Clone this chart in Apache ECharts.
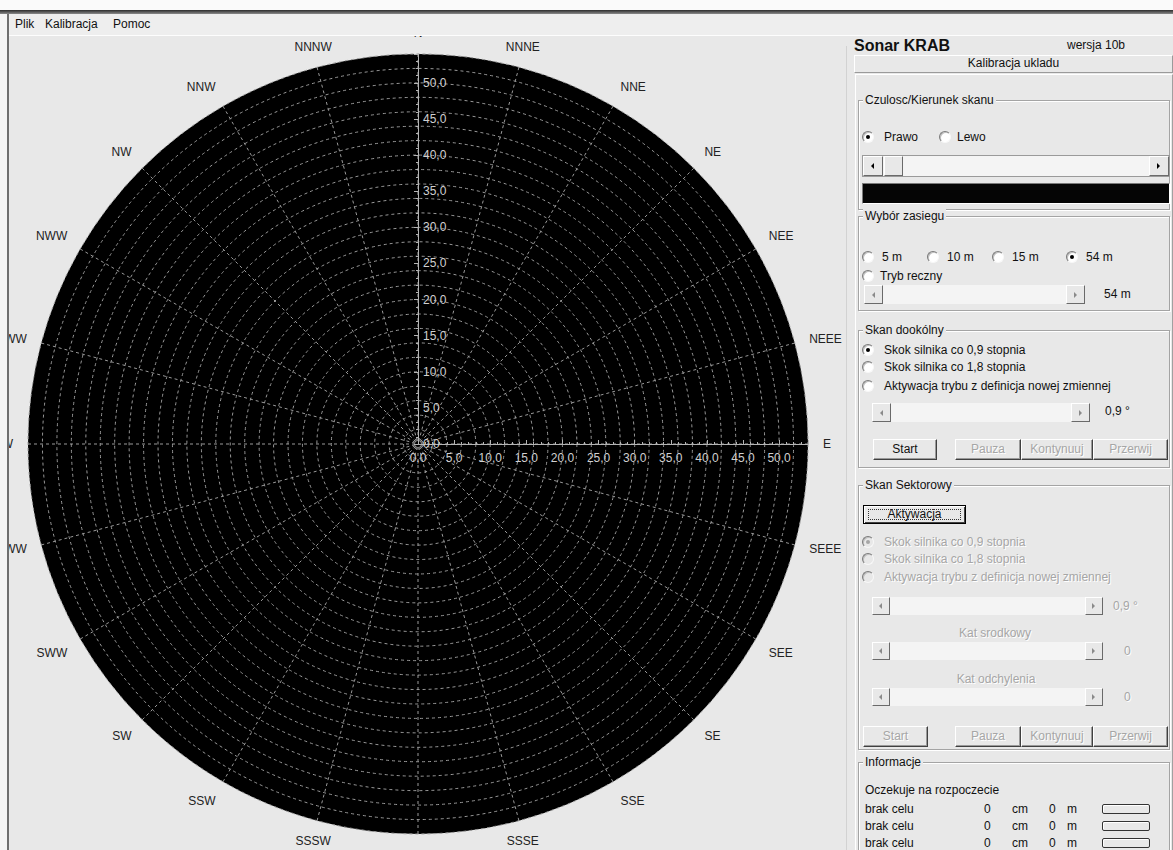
<!DOCTYPE html>
<html>
<head>
<meta charset="utf-8">
<script src="https://cdn.jsdelivr.net/npm/echarts@6/dist/echarts.min.js"></script>
<style>
html,body{margin:0;padding:0;width:1173px;height:850px;overflow:hidden;background:#e8e8e8;
  font-family:"Liberation Sans",Arial,sans-serif;font-size:12px;color:#111;}
#chart{position:absolute;left:0;top:0;width:848px;height:850px;z-index:1;}
#ui{position:absolute;left:0;top:0;width:1173px;height:850px;z-index:2;pointer-events:none;}
#ui div{position:absolute;box-sizing:border-box;white-space:nowrap;}
</style>
</head>
<body>
<div id="chart"></div>
<div id="ui"></div>
<script>
// ---------- chart data ----------
const directions = ['N','NNNE','NNE','NE','NEE','NEEE','E','SEEE','SEE','SE','SSE','SSSE',
                    'S','SSSW','SSW','SW','SWW','SWWW','W','NWWW','NWW','NW','NNW','NNNW'];
const bearingStep = 15;       // degrees between compass spokes
const rangeMax = 54;          // selected range: 54 m
const ringStep = 2;           // dashed range rings every 2 m
const labelStep = 5;          // labelled ticks every 5 m
const radialTickLabels = ['0,0','5,0','10,0','15,0','20,0','25,0','30,0','35,0','40,0','45,0','50,0'];

// ---------- panel texts ----------
const menuItems = ['Plik','Kalibracja','Pomoc'];
const rangeOptions = ['5 m','10 m','15 m','54 m'];
const stepOptions = ['Skok silnika co 0,9 stopnia','Skok silnika co 1,8 stopnia','Aktywacja trybu z definicja nowej zmiennej'];
const controlButtons = ['Start','Pauza','Kontynuuj','Przerwij'];
const targetStatus = ['brak celu','brak celu','brak celu'];
const targetCm = [0,0,0];
const targetM = [0,0,0];

// ---------- chart ----------
const chart = echarts.init(document.getElementById('chart'), null, {renderer:'svg'});
const center = [418, 444];
const radius = 390;
const gridLine = {color:'#9a9a9a', width:1, type:[3,3]};
const axisColor = '#b4b4b4';
const labelFmt = v => (v % labelStep === 0 && radialTickLabels[v / labelStep]) || '';
const bearingFmt = v => directions[Math.round(v / bearingStep) % directions.length];
const labelFont = {fontFamily:'Liberation Sans', fontSize:12, color:'#d0d0d0'};
const fullCircle = {type:'value', min:0, max:360, interval:bearingStep, startAngle:90, clockwise:true};

chart.setOption({
  animation:false,
  backgroundColor:'transparent',
  polar:[{center, radius},{center, radius},{center, radius},{center, radius}],
  angleAxis:[
    // black disc (lowest layer)
    Object.assign({polarIndex:3, z:0,
     axisLine:{show:false}, axisTick:{show:false}, axisLabel:{show:false}, splitLine:{show:false},
     splitArea:{show:true, areaStyle:{color:['#000000']}}}, fullCircle),
    // spokes + compass labels
    Object.assign({polarIndex:0, z:2,
     axisLine:{show:false}, axisTick:{show:false},
     axisLabel:{show:true, margin:15, color:'#222', fontSize:12, fontFamily:'Liberation Sans', formatter:bearingFmt},
     splitLine:{show:true, lineStyle:gridLine}, splitArea:{show:false}}, fullCircle),
    {polarIndex:1, type:'value', min:0, max:360, startAngle:90, show:false},
    {polarIndex:2, type:'value', min:0, max:360, startAngle:0, show:false}
  ],
  radiusAxis:[
    {polarIndex:3, type:'value', min:0, max:rangeMax, show:false},
    {polarIndex:0, type:'value', min:0, max:rangeMax, interval:ringStep, z:2,
     axisLine:{show:false}, axisTick:{show:false}, axisLabel:{show:false},
     splitLine:{show:true, lineStyle:gridLine}},
    {polarIndex:1, type:'value', min:0, max:rangeMax, interval:labelStep, z:3,
     axisLine:{show:true, lineStyle:{color:axisColor}},
     axisTick:{show:true, length:4, lineStyle:{color:axisColor}},
     minorTick:{show:true, splitNumber:5, length:2, lineStyle:{color:axisColor}},
     axisLabel:Object.assign({formatter:labelFmt, align:'left', verticalAlign:'middle', margin:-5, showMaxLabel:false}, labelFont),
     splitLine:{show:false}},
    {polarIndex:2, type:'value', min:0, max:rangeMax, interval:labelStep, z:3,
     axisLine:{show:true, lineStyle:{color:axisColor}},
     axisTick:{show:true, length:4, lineStyle:{color:axisColor}},
     minorTick:{show:true, splitNumber:5, length:2, lineStyle:{color:axisColor}},
     axisLabel:Object.assign({formatter:labelFmt, align:'center', verticalAlign:'top', margin:-8, showMaxLabel:false}, labelFont),
     splitLine:{show:false}}
  ],
  series:[]
});

// ---------- window chrome + side panel ----------
const ui = document.getElementById('ui');
const BG = '#e8e8e8', DIS = '#a6a6a6';
function box(x, y, w, h, style, text){
  const e = document.createElement('div');
  Object.assign(e.style, {left:x+'px', top:y+'px', width:w+'px', height:h+'px'}, style || {});
  if (text != null) e.textContent = text;
  ui.appendChild(e); return e;
}
function txt(x, cy, s, opt){
  opt = opt || {};
  const st = {left:x+'px', top:(cy-8)+'px', lineHeight:'16px', fontSize:(opt.size||12)+'px',
    color: opt.dis ? DIS : (opt.color||'#111'), fontWeight: opt.bold ? 'bold' : 'normal'};
  if (opt.dis) st.textShadow = '1px 1px 0 #fff';
  if (opt.bg) { st.background = opt.bg; st.padding = '0 2px'; }
  if (opt.w) { st.width = opt.w+'px'; st.textAlign = 'center'; }
  const e = document.createElement('div');
  Object.assign(e.style, st); e.textContent = s; ui.appendChild(e); return e;
}
function radio(cx, cy, checked, dis){
  box(cx-6, cy-6, 12, 12, {borderRadius:'50%', border:'1px solid', borderColor:'#7a7a7a #f8f8f8 #f8f8f8 #7a7a7a',
    background: dis ? BG : '#fff', boxShadow:'inset 1px 1px 0 #c0c0c0'});
  if (checked) box(cx-2, cy-2, 4, 4, {borderRadius:'50%', background: dis ? DIS : '#000'});
}
function arrowBtn(x, y, h, dir, dark){
  box(x, y, h, h, {background:BG, border:'1px solid', borderColor:'#fff #6a6a6a #6a6a6a #fff'});
  const c = dark ? '#000' : '#8a8a8a';
  const st = {width:'0px', height:'0px', borderTop:'3px solid transparent', borderBottom:'3px solid transparent'};
  if (dir < 0) st.borderRight = '3px solid '+c; else st.borderLeft = '3px solid '+c;
  box(x + Math.round(h/2) - 2, y + Math.round(h/2) - 3, 3, 6, st);
}
function scrollbar(x, y, w, h, opt){
  opt = opt || {};
  box(x, y, w, h, {background:'#f4f4f4', border: opt.frame ? '1px solid #9a9a9a' : 'none'});
  arrowBtn(x + (opt.frame?1:0), y + (opt.frame?1:0), h - (opt.frame?2:0), -1, opt.dark);
  arrowBtn(x + w - h + (opt.frame?1:0), y + (opt.frame?1:0), h - (opt.frame?2:0), 1, opt.dark);
  if (opt.thumb) box(x + h, y + 1, 19, h - 2, {background:BG, border:'1px solid', borderColor:'#fff #6a6a6a #6a6a6a #fff'});
}
function button(x, y, w, h, label, dis){
  return box(x, y, w, h, {background:BG, border:'1px solid', borderColor:'#fff #404040 #404040 #fff',
    boxShadow:'inset -1px -1px 0 #9a9a9a', textAlign:'center', lineHeight:(h-2)+'px', fontSize:'12px',
    color: dis ? DIS : '#111', textShadow: dis ? '1px 1px 0 #fff' : 'none'}, label);
}
function group(x, y, w, h, title){
  box(x, y, w, h, {border:'1px solid #a4a4a4', boxShadow:'1px 1px 0 #fff, inset 1px 1px 0 #fff'});
  txt(x+5, y, title, {bg:BG});
}

// window frame + menu
box(0, 0, 1173, 10, {background:'#fafafa'});
box(0, 10, 1173, 4, {background:'linear-gradient(#2c2c2c,#8a8a8a)'});
box(0, 14, 1173, 21, {background:'#eeeeee'});
box(0, 35, 1173, 1, {background:'#fdfdfd'});
box(0, 14, 7, 836, {background:'#f4f4f4'});
box(7, 14, 2, 836, {background:'#6e6e6e'});
const menuX = [15, 45, 113];
menuItems.forEach((m, i) => txt(menuX[i], 24, m));
box(846, 46, 1, 804, {background:'#d2d2d2'});

// header
txt(854, 46, 'Sonar KRAB', {bold:true, size:16});
txt(1067, 45, 'wersja 10b');
box(854, 55, 319, 18, {border:'1px solid', borderColor:'#fff #9a9a9a #9a9a9a #fff'});
txt(854, 63, 'Kalibracja ukladu', {w:319});
box(855, 74, 318, 790, {border:'1px solid', borderColor:'#fff #a0a0a0 #a0a0a0 #fff'});

// Czulosc / Kierunek skanu
group(858, 100, 312, 110, 'Czulosc/Kierunek skanu');
radio(868, 137, true); txt(884, 137, 'Prawo');
radio(945, 137, false); txt(957, 137, 'Lewo');
scrollbar(862, 155, 308, 22, {frame:true, dark:true, thumb:true});
box(862, 183, 308, 21, {background:'#050505', border:'1px solid', borderColor:'#7a7a7a #fff #fff #7a7a7a'});

// Wybor zasiegu
group(858, 216, 312, 95, 'Wybór zasiegu');
const rangeX = [868, 933, 998, 1072];
rangeOptions.forEach((r, i) => { radio(rangeX[i], 257, i === 3); txt(rangeX[i] + 14, 257, r); });
radio(868, 276, false); txt(880, 276, 'Tryb reczny');
scrollbar(864, 285, 221, 19, {});
txt(1104, 294, '54 m');

// Skan dookolny
group(858, 330, 312, 138, 'Skan dookólny');
stepOptions.forEach((s, i) => { const cy = [350, 367, 386][i]; radio(868, cy, i === 0); txt(884, cy, s); });
scrollbar(872, 403, 218, 19, {});
txt(1105, 411, '0,9 °');
const btnX = [873, 955, 1021, 1093], btnW = [64, 66, 72, 75];
controlButtons.forEach((b, i) => button(btnX[i], 439, btnW[i], 21, b, i > 0));

// Skan Sektorowy
group(858, 485, 312, 265, 'Skan Sektorowy');
box(863, 505, 103, 19, {background:BG, border:'1px solid #000', boxShadow:'inset 1px 1px 0 #fff, inset -1px -1px 0 #404040',
  textAlign:'center', lineHeight:'17px'}, 'Aktywacja');
box(868, 509, 93, 11, {border:'1px dotted #333'});
stepOptions.forEach((s, i) => { const cy = [542, 559, 577][i]; radio(868, cy, i === 0, true); txt(884, cy, s, {dis:true}); });
scrollbar(872, 597, 231, 18, {});
txt(1113, 606, '0,9 °', {dis:true});
txt(940, 633, 'Kat srodkowy', {dis:true, w:110});
scrollbar(872, 642, 231, 18, {});
txt(1124, 651, '0', {dis:true});
txt(940, 679, 'Kat odchylenia', {dis:true, w:112});
scrollbar(872, 688, 231, 18, {});
txt(1124, 697, '0', {dis:true});
const btnX2 = [863, 955, 1021, 1093];
controlButtons.forEach((b, i) => button(btnX2[i], 726, i === 0 ? 65 : btnW[i], 21, b, true));

// Informacje
group(858, 762, 312, 110, 'Informacje');
txt(865, 790, 'Oczekuje na rozpoczecie');
targetStatus.forEach((s, i) => {
  const cy = [809, 826, 843][i];
  txt(865, cy, s);
  txt(984, cy, String(targetCm[i]));
  txt(1012, cy, 'cm');
  txt(1049, cy, String(targetM[i]));
  txt(1067, cy, 'm');
  box(1102, cy - 5, 48, 10, {border:'1px solid #333', borderRadius:'2px', background:BG, boxShadow:'inset 1px 1px 0 #fff'});
});
</script>
</body>
</html>
